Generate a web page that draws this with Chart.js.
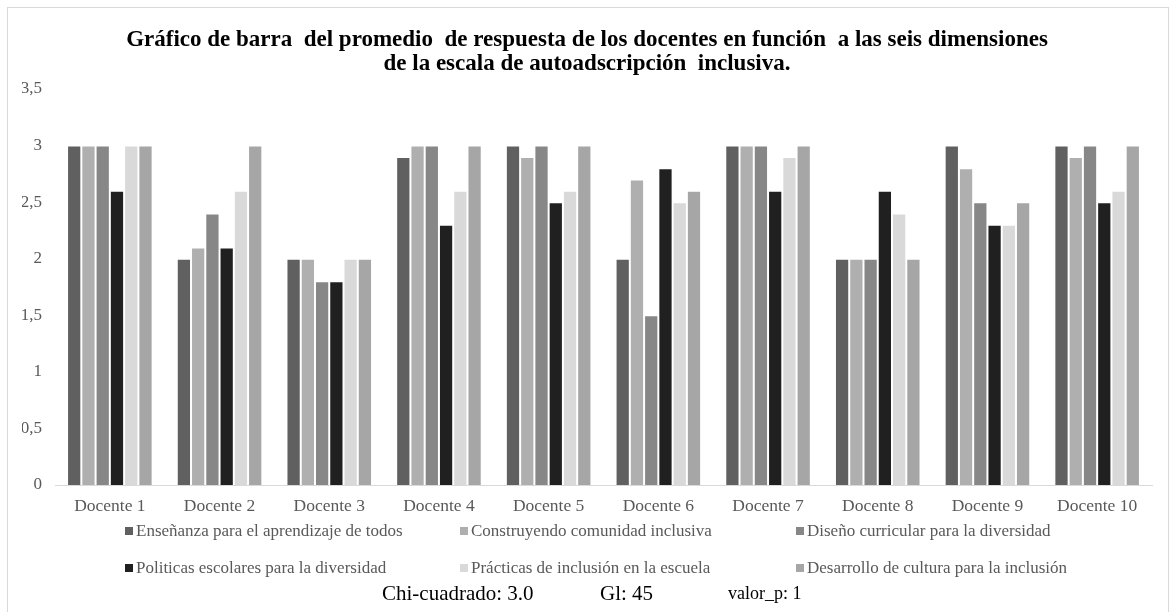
<!DOCTYPE html>
<html>
<head>
<meta charset="utf-8">
<script src="https://cdn.jsdelivr.net/npm/chart.js@4"></script>
<style>
  body { margin: 0; background: #fff; }
  #wrap { position: relative; width: 1171px; height: 612px; overflow: hidden; }
  #frame { position: absolute; left: 7px; top: 7px; width: 1162px; height: 640px; border: 1px solid #d9d9d9; box-sizing: border-box; }
  canvas { position: absolute; left: 0; top: 0; }
  .leg { position: absolute; font: 17px "Liberation Serif", serif; color: #595959; white-space: nowrap; line-height: 18px; }
  .leg span { display: inline-block; width: 8px; height: 8px; margin-right: 3px; vertical-align: 1px; }
  .stat { position: absolute; font-family: "Liberation Serif", serif; color: #000; white-space: nowrap; line-height: 22px; }
</style>
</head>
<body>
<div id="wrap">
  <div id="frame"></div>
  <canvas id="chart" width="1171" height="612"></canvas>
</div>
<script>
const docentes = ["Docente 1", "Docente 2", "Docente 3", "Docente 4", "Docente 5",
  "Docente 6", "Docente 7", "Docente 8", "Docente 9", "Docente 10"];

const seriesNames = [
  "Enseñanza para el aprendizaje de todos",
  "Construyendo comunidad inclusiva",
  "Diseño curricular para la diversidad",
  "Politicas escolares para la diversidad",
  "Prácticas de inclusión en la escuela",
  "Desarrollo de cultura para la inclusión"
];

const ensenanza  = [3, 2, 2, 2.9, 3, 2, 3, 2, 3, 3];
const comunidad  = [3, 2.1, 2, 3, 2.9, 2.7, 3, 2, 2.8, 2.9];
const curricular = [3, 2.4, 1.8, 3, 3, 1.5, 3, 2, 2.5, 3];
const politicas  = [2.6, 2.1, 1.8, 2.3, 2.5, 2.8, 2.6, 2.6, 2.3, 2.5];
const practicas  = [3, 2.6, 2, 2.6, 2.6, 2.5, 2.9, 2.4, 2.3, 2.6];
const cultura    = [3, 3, 2, 3, 3, 2.6, 3, 2, 2.5, 3];

const colors = ["#606060", "#afafaf", "#878787", "#202020", "#d9d9d9", "#a6a6a6"];

const stats = ["Chi-cuadrado: 3.0", "Gl: 45", "valor_p: 1"];

const allValues = [ensenanza, comunidad, curricular, politicas, practicas, cultura];

const ctx = document.getElementById("chart").getContext("2d");
new Chart(ctx, {
  type: "bar",
  data: {
    labels: docentes,
    datasets: allValues.map((vals, i) => ({
      label: seriesNames[i],
      data: vals,
      backgroundColor: colors[i],
      borderColor: "#ffffff",
      borderWidth: 1,
      barPercentage: 1,
      categoryPercentage: 0.78,
    })),
  },
  options: {
    responsive: false,
    animation: false,
    layout: { padding: { left: 22, right: 19, top: 20, bottom: 91 } },
    plugins: {
      legend: { display: false },
      tooltip: { enabled: false },
      title: {
        display: true,
        text: [
          "Gráfico de barra  del promedio  de respuesta de los docentes en función  a las seis dimensiones",
          "de la escala de autoadscripción  inclusiva.",
        ],
        color: "#000",
        font: { family: "Liberation Serif", size: 23, weight: "bold", lineHeight: 1.05 },
        padding: { top: 8, bottom: 12.7 },
      },
    },
    scales: {
      x: {
        grid: { display: false, drawTicks: false },
        border: { display: true, color: "#d9d9d9", width: 1 },
        ticks: {
          color: "#595959",
          font: { family: "Liberation Serif", size: 17.5 },
          padding: 11,
        },
        afterFit: (scale) => { scale.height = 36; },
      },
      y: {
        min: 0,
        max: 3.5,
        grid: { display: false, drawTicks: false },
        border: { display: false },
        ticks: {
          stepSize: 0.5,
          color: "#595959",
          font: { family: "Liberation Serif", size: 17 },
          padding: 13,
          callback: (v) => String(v).replace(".", ","),
        },
        afterFit: (scale) => { scale.width = 33; },
      },
    },
  },
});

// legend laid out in three columns like the original
const wrap = document.getElementById("wrap");
const colX = [125, 460, 796];
const rowY = [522, 559];
seriesNames.forEach((name, i) => {
  const d = document.createElement("div");
  d.className = "leg";
  d.style.left = colX[i % 3] + "px";
  d.style.top = rowY[Math.floor(i / 3)] + "px";
  d.innerHTML = '<span style="background:' + colors[i] + '"></span>' + name;
  wrap.appendChild(d);
});

const statX = [382, 600, 728];
const statSize = [21, 21, 18];
stats.forEach((s, i) => {
  const d = document.createElement("div");
  d.className = "stat";
  d.style.left = statX[i] + "px";
  d.style.top = "582px";
  d.style.fontSize = statSize[i] + "px";
  d.textContent = s;
  wrap.appendChild(d);
});
</script>
</body>
</html>
